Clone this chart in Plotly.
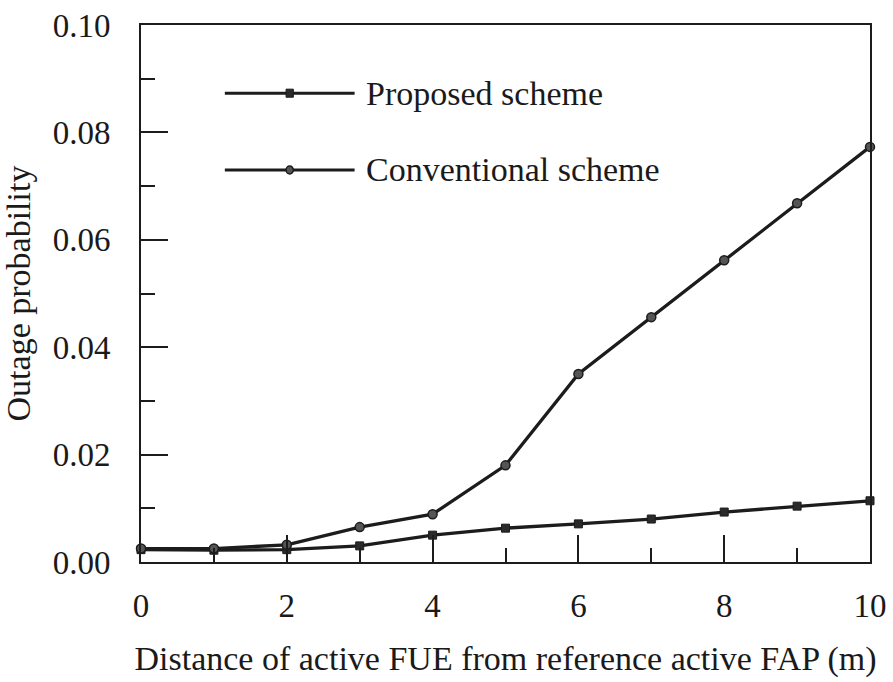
import plotly.graph_objects as go

distance = [0, 1, 2, 3, 4, 5, 6, 7, 8, 9, 10]
proposed = [0.0023, 0.0022, 0.0023, 0.0030, 0.0050, 0.0063, 0.0071, 0.0080, 0.0093, 0.0104, 0.0114]
conventional = [0.0025, 0.0025, 0.0032, 0.0065, 0.0089, 0.0180, 0.0350, 0.0456, 0.0562, 0.0668, 0.0773]
names = ["Proposed scheme", "Conventional scheme"]

LINE = "#1c1c1c"
FONT = "Liberation Serif"

fig = go.Figure()
fig.add_trace(go.Scatter(x=distance, y=proposed, mode="lines+markers", name=names[0],
                         line=dict(color=LINE, width=3.3),
                         marker=dict(symbol="square", size=8, color="#2a2a2a",
                                     line=dict(color=LINE, width=1)),
                         showlegend=False, cliponaxis=False))
fig.add_trace(go.Scatter(x=distance, y=conventional, mode="lines+markers", name=names[1],
                         line=dict(color=LINE, width=3.3),
                         marker=dict(symbol="circle", size=9, color="#555555",
                                     line=dict(color=LINE, width=1.5)),
                         showlegend=False, cliponaxis=False))

# manual legend (paper coordinates)
legend_rows = [(0.873, "square", names[0]), (0.730, "circle", names[1])]
for yy, sym, label in legend_rows:
    fig.add_shape(type="line", xref="paper", yref="paper", x0=0.115, x1=0.293, y0=yy, y1=yy,
                  line=dict(color=LINE, width=3))
    if sym == "square":
        fig.add_shape(type="rect", xref="paper", yref="paper", x0=0.199, x1=0.209,
                      y0=yy - 0.0075, y1=yy + 0.0075, fillcolor="#2a2a2a", line=dict(color=LINE, width=1))
    else:
        fig.add_shape(type="circle", xref="paper", yref="paper", x0=0.199, x1=0.209,
                      y0=yy - 0.0075, y1=yy + 0.0075, fillcolor="#555555", line=dict(color=LINE, width=1.5))
    fig.add_annotation(xref="paper", yref="paper", x=0.306, y=yy, text=label, showarrow=False,
                       xanchor="left", yanchor="middle", font=dict(family=FONT, size=34, color="#1a1a1a"))

fig.update_layout(
    width=893, height=682,
    margin=dict(l=141, r=23, t=25, b=120),
    paper_bgcolor="white", plot_bgcolor="white",
    font=dict(family=FONT, size=33, color="#1a1a1a"),
)
fig.update_xaxes(range=[0, 10], dtick=2, tick0=0, showgrid=False, zeroline=False, automargin=False,
                 showline=True, linecolor=LINE, linewidth=2, mirror=True,
                 ticks="inside", ticklen=27, tickwidth=2, tickcolor=LINE,
                 minor=dict(dtick=1, ticks="inside", ticklen=14, tickwidth=2, tickcolor=LINE, showgrid=False),
                 ticklabelstandoff=13,
                 title=dict(text="Distance of active FUE from reference active FAP (m)",
                            font=dict(family=FONT, size=34), standoff=24))
fig.update_yaxes(range=[0, 0.10], dtick=0.02, tick0=0, tickformat=".2f", showgrid=False, zeroline=False,
                 automargin=False,
                 showline=True, linecolor=LINE, linewidth=2, mirror=True,
                 ticks="inside", ticklen=27, tickwidth=2, tickcolor=LINE,
                 minor=dict(dtick=0.01, ticks="inside", ticklen=14, tickwidth=2, tickcolor=LINE, showgrid=False),
                 ticklabelstandoff=22,
                 title=dict(text="Outage probability", font=dict(family=FONT, size=34), standoff=14))

fig.write_html("out.html")
